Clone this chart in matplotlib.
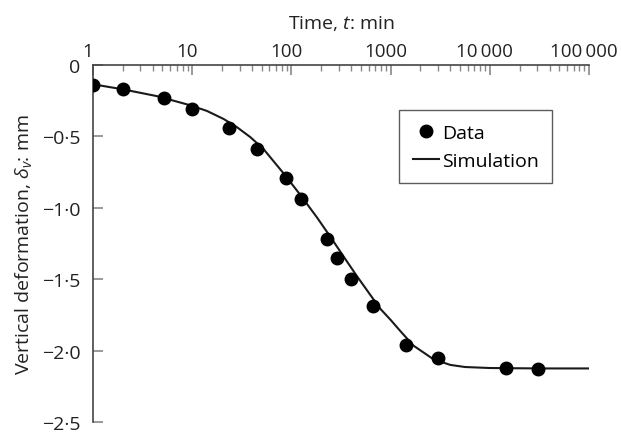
import matplotlib
matplotlib.use("Agg")
import matplotlib.pyplot as plt
import matplotlib.transforms as mtransforms
from matplotlib.ticker import LogLocator, NullFormatter

plt.rcParams['font.family'] = ['Open Sans', 'DejaVu Sans']
plt.rcParams['mathtext.fontset'] = 'custom'
plt.rcParams['mathtext.rm'] = 'Open Sans'
plt.rcParams['mathtext.it'] = 'Open Sans:italic'

# measured points (time in min, deformation in mm)
data_t = [1, 2, 5.2, 10, 23.5, 45, 89, 126, 226, 290, 395, 660, 1420, 2970, 14500, 30500]
data_d = [-0.14, -0.17, -0.23, -0.31, -0.44, -0.59, -0.79, -0.94, -1.22, -1.35, -1.50,
          -1.69, -1.96, -2.05, -2.12, -2.13]

# simulation curve
sim_t = [1, 2.02, 4.4, 9.55, 14.1, 20.7, 28.2, 38.5, 52.5, 83.6, 123, 182, 248, 337, 461,
         678, 794, 1000, 1259, 1698, 2692, 3981, 5623, 10000, 31623, 100000]
sim_d = [-0.135, -0.171, -0.218, -0.282, -0.322, -0.378, -0.435, -0.505, -0.59, -0.76,
         -0.91, -1.07, -1.205, -1.343, -1.482, -1.645, -1.71, -1.785, -1.865, -1.965,
         -2.06, -2.10, -2.115, -2.122, -2.125, -2.125]

x_ticks = [1, 10, 100, 1000, 10000, 100000]
x_labels = ['1', '10', '100', '1000', '10\u2009000', '100\u2009000']
y_ticks = [0, -0.5, -1.0, -1.5, -2.0, -2.5]
y_labels = ['0', '\u22120\u00b75', '\u22121\u00b70', '\u22121\u00b75', '\u22122\u00b70', '\u22122\u00b75']

fig = plt.figure(figsize=(6.21, 4.35), dpi=100)
ax = fig.add_axes([0.1498, 0.0276, 0.7987, 0.8207])

ax.plot(sim_t, sim_d, color='#1a1a1a', lw=1.5, label='Simulation', zorder=2)
ax.plot(data_t, data_d, 'o', color='black', ms=9, label='Data', zorder=3)

ax.set_xscale('log')
ax.set_xlim(1, 100000)
ax.set_ylim(-2.5, 0)

ax.xaxis.tick_top()
ax.xaxis.set_label_position('top')
ax.set_xticks(x_ticks)
ax.set_xticklabels(x_labels)
ax.xaxis.set_minor_locator(LogLocator(base=10, subs=range(2, 10), numticks=20))
ax.xaxis.set_minor_formatter(NullFormatter())
ax.set_yticks(y_ticks)
ax.set_yticklabels(y_labels)

for s in ['bottom', 'right']:
    ax.spines[s].set_visible(False)
for s in ['top', 'left']:
    ax.spines[s].set_color('#444444')
    ax.spines[s].set_linewidth(1.2)

ax.tick_params(axis='both', which='major', direction='in', length=7, width=1.2,
               color='#888888', labelsize=14, labelcolor='#222222')
ax.tick_params(axis='x', which='major', pad=3.5, labelsize=13.5)
ax.tick_params(axis='y', which='major', pad=9)
ax.tick_params(axis='x', which='minor', direction='in', length=4, width=1.0, color='#888888')

# top tick labels sit a little left of their ticks
shift = mtransforms.ScaledTranslation(-5 / 100, 0, fig.dpi_scale_trans)
for lbl in ax.get_xticklabels():
    lbl.set_transform(lbl.get_transform() + shift)

ax.set_xlabel('Time, $t$: min', fontsize=14, color='#222222', labelpad=10.5)
ax.set_ylabel('Vertical deformation, $\\delta_v$: mm', fontsize=14, color='#222222', labelpad=5.5)

handles, labels = ax.get_legend_handles_labels()
leg = ax.legend(handles[::-1], labels[::-1], loc='upper left', bbox_to_anchor=(0.617, 0.873),
                borderaxespad=0, fontsize=14, frameon=True, fancybox=False,
                handlelength=1.35, handletextpad=0.15, borderpad=0.7, labelspacing=0.5)
leg.get_frame().set_edgecolor('#333333')
leg.get_frame().set_linewidth(1.0)

fig.savefig('out.png', dpi=100)
